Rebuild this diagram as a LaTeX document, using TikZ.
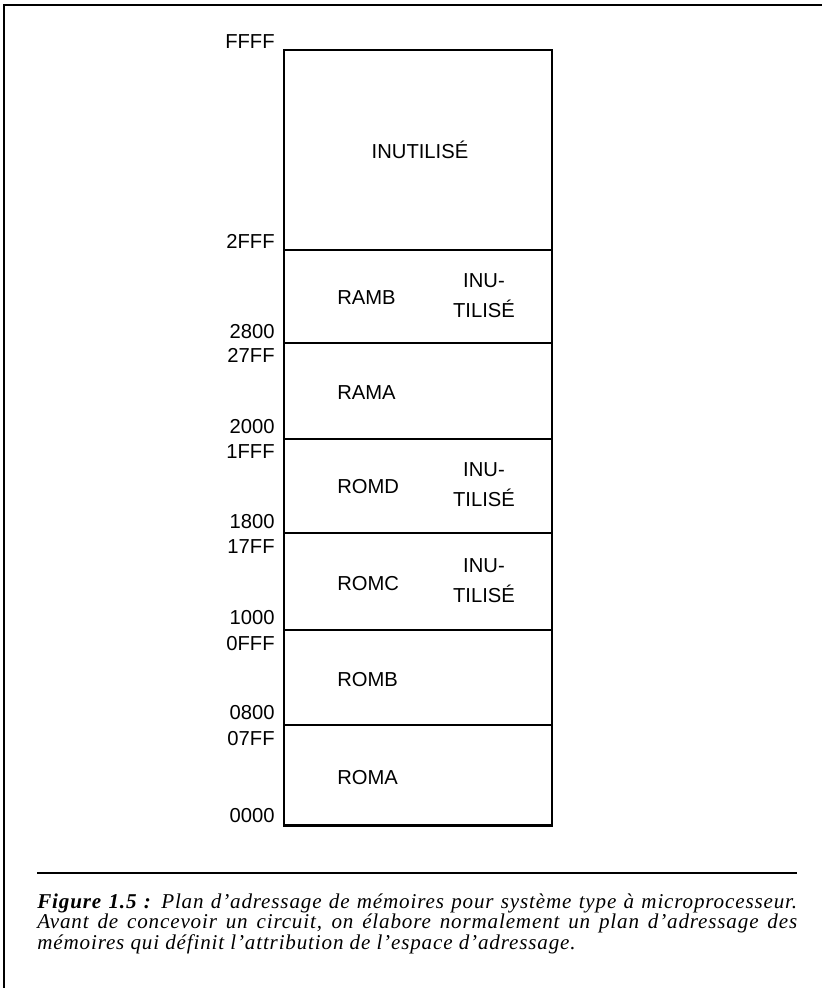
\documentclass[tikz,border=0pt]{standalone}
\usepackage{fontspec}
\newfontfamily\mapsans{Liberation Sans}
\newfontfamily\mapserif{Liberation Serif}[Ligatures=TeX, LetterSpace=4]
\newcommand{\addrfont}{\mapsans\fontsize{11.5}{17}\selectfont}
\newcommand{\captfont}{\mapserif\itshape\fontsize{12}{11.8}\selectfont}

\tikzset{
  addr/.style={font=\addrfont, inner sep=0pt},
  blockname/.style={font=\addrfont, inner sep=0pt, anchor=west},
  unused/.style={font=\addrfont, inner sep=0pt, align=center},
  divider/.style={line width=1.4pt}
}

\begin{document}
\begin{tikzpicture}[x=0.02cm, y=-0.02cm]
    \useasboundingbox (0,0) rectangle (822,988);

    % frame of the page (left and top edges)
    \draw[line width=1.7pt] (4,988) -- (4,5) -- (822,5);

    % memory map
    \draw[line width=1.7pt] (284,50) rectangle (552,825);
    \draw[divider] (284,250) -- (552,250);
    \draw[divider] (284,343) -- (552,343);
    \draw[divider] (284,439) -- (552,439);
    \draw[divider] (284,533) -- (552,533);
    \draw[divider] (284,630) -- (552,630);
    \draw[divider] (284,725) -- (552,725);

    % blocks
    \node[unused] (top) at (420,150) {INUTILISÉ};
    \node[blockname] (ramb) at (337,298) {RAMB};
    \node[unused] (rambfree) at (484,296) {INU-\\TILISÉ};
    \node[blockname] (rama) at (337,393) {RAMA};
    \node[blockname] (romd) at (337,487) {ROMD};
    \node[unused] (romdfree) at (484,485) {INU-\\TILISÉ};
    \node[blockname] (romc) at (337,584) {ROMC};
    \node[unused] (romcfree) at (484,581) {INU-\\TILISÉ};
    \node[blockname] (romb) at (337,680) {ROMB};
    \node[blockname] (roma) at (337,778) {ROMA};

    % addresses
    \node[addr, anchor=base east] (aFFFF) at (275,48) {FFFF};
    \node[addr, anchor=base east] (a2FFF) at (275,248) {2FFF};
    \node[addr, anchor=base east] (a2800) at (275,338) {2800};
    \node[addr, anchor=north east] (a27FF) at (275,348) {27FF};
    \node[addr, anchor=base east] (a2000) at (275,433) {2000};
    \node[addr, anchor=north east] (a1FFF) at (275,444) {1FFF};
    \node[addr, anchor=base east] (a1800) at (275,528) {1800};
    \node[addr, anchor=north east] (a17FF) at (275,539) {17FF};
    \node[addr, anchor=base east] (a1000) at (275,624) {1000};
    \node[addr, anchor=north east] (a0FFF) at (275,636) {0FFF};
    \node[addr, anchor=base east] (a0800) at (275,719) {0800};
    \node[addr, anchor=north east] (a07FF) at (275,731) {07FF};
    \node[addr, anchor=base east] (a0000) at (275,822) {0000};

    % caption
    \draw[line width=1.6pt] (37,873) -- (797,873);
    \node[anchor=north west, inner sep=0pt, text width=15.2cm, align=justify, font=\captfont] (caption) at (37,893)
      {\textbf{Figure 1.5 :} Plan d’adressage de mémoires pour système type à microprocesseur.\linebreak
       Avant de concevoir un circuit, on élabore normalement un plan d’adressage des\linebreak
       mémoires qui définit l’attribution de l’espace d’adressage.};
\end{tikzpicture}
\end{document}
